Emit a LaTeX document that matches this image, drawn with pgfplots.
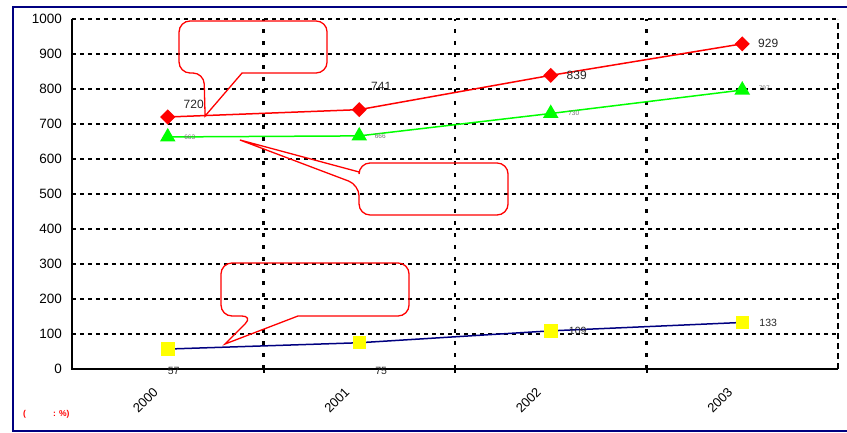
\documentclass[border=0pt]{standalone}
\usepackage{pgfplots}
\pgfplotsset{compat=1.18}
\usepackage{fontspec}
\setmainfont{Liberation Sans}
\definecolor{navyc}{RGB}{0,0,128}
\definecolor{greenc}{RGB}{0,255,0}
\definecolor{yellowc}{RGB}{255,255,0}
\definecolor{redc}{RGB}{255,0,0}
\begin{document}
\begin{tikzpicture}
\useasboundingbox (-72pt,-64pt) rectangle (775pt,369pt);
\begin{axis}[
  at={(0pt,0pt)}, anchor=south west,
  scale only axis, width=766pt, height=350pt,
  xmin=-0.5, xmax=3.5, ymin=0, ymax=1000,
  clip=false,
  axis line style={draw=none},
  xtick={0,1,2,3}, xticklabels={2000,2001,2002,2003},
  ytick={0,100,...,1000},
  major tick length=0pt,
  /pgf/number format/assume math mode=true,
  /pgf/number format/1000 sep={},
  yticklabel style={font=\fontsize{13.5}{14}\selectfont, inner sep=0pt, anchor=east, xshift=-10pt},
  xticklabel style={font=\fontsize{13}{14}\selectfont, xshift=-12pt, yshift=-21pt, rotate=45, anchor=east, inner sep=0pt},
  ymajorgrids,
  major grid style={black, line width=2pt, dash pattern=on 4pt off 4pt},
]
% vertical grid lines and axis frame
\draw[black, line width=2.2pt, dash pattern=on 4pt off 8pt] (axis cs:0.5,0) -- (axis cs:0.5,1000);
\draw[black, line width=2.2pt, dash pattern=on 4pt off 8pt] (axis cs:1.5,0) -- (axis cs:1.5,1000);
\draw[black, line width=2.2pt, dash pattern=on 4pt off 8pt] (axis cs:2.5,0) -- (axis cs:2.5,1000);
\draw[black, line width=2pt] (axis cs:-0.5,1000) -- (axis cs:-0.5,0) -- (axis cs:3.5,0);
\draw[black, line width=2pt, dash pattern=on 6pt off 4pt] (axis cs:3.5,0) -- (axis cs:3.5,1000);
\draw[black, line width=2pt] (axis cs:0.5,0) -- ++(0pt,-4pt);
\draw[black, line width=2pt] (axis cs:1.5,0) -- ++(0pt,-4pt);
\draw[black, line width=2pt] (axis cs:2.5,0) -- ++(0pt,-4pt);

% series
\addplot[color=redc, line width=1.5pt, mark=square*, mark size=4.6pt, mark options={rotate=45, fill=redc, draw=redc}]
  coordinates {(0,720) (1,741) (2,839) (3,929)};
\addplot[color=greenc, line width=1.5pt, mark=triangle*, mark size=7.5pt, mark options={fill=greenc, draw=greenc}]
  coordinates {(0,663) (1,666) (2,730) (3,797)};
\addplot[color=navyc, line width=1.5pt, mark=square*, mark size=6pt, mark options={fill=yellowc, draw=yellowc}]
  coordinates {(0,57) (1,75) (2,109) (3,133)};

% data labels
\begin{scope}[every node/.style={font=\fontsize{12}{12}\selectfont, text=black!85, inner sep=0pt}]
\node[xshift=26pt, yshift=13pt] at (axis cs:0,720) {720};
\node[xshift=22pt, yshift=23pt] at (axis cs:1,741) {741};
\node[xshift=26pt] at (axis cs:2,839) {839};
\node[xshift=26pt] at (axis cs:3,929) {929};
\end{scope}
\begin{scope}[every node/.style={font=\fontsize{6.5}{7}\selectfont, text=black!55, inner sep=0pt}]
\node[xshift=22pt] at (axis cs:0,663) {663};
\node[xshift=21pt] at (axis cs:1,666) {666};
\node[xshift=23pt] at (axis cs:2,730) {730};
\node[xshift=22pt, yshift=2pt] at (axis cs:3,797) {797};
\end{scope}
\begin{scope}[every node/.style={font=\fontsize{10.5}{11}\selectfont, text=black!85, inner sep=0pt}]
\node[xshift=6pt, yshift=-22pt] at (axis cs:0,57) {57};
\node[xshift=22pt, yshift=-28pt] at (axis cs:1,75) {75};
\node[xshift=27pt] at (axis cs:2,109) {109};
\node[xshift=26pt] at (axis cs:3,133) {133};
\end{scope}

% callouts
\draw[redc, line width=1.3pt] (axis cs:0.388,845.7) [rounded corners=11pt] -- (axis cs:0.832,845.7) -- (axis cs:0.832,994.3) -- (axis cs:0.059,994.3) -- (axis cs:0.059,845.7) -- (axis cs:0.189,845.7) [sharp corners] -- (axis cs:0.195,722.9) -- cycle;
\draw[redc, line width=1.3pt] (axis cs:0.999,562.9) [rounded corners=11pt] -- (axis cs:0.999,588.6) -- (axis cs:1.777,588.6) -- (axis cs:1.777,440) -- (axis cs:0.999,440) -- (axis cs:0.999,525.7) [sharp corners] -- (axis cs:0.377,654.3) -- cycle;
\draw[redc, line width=1.3pt] (axis cs:0.680,151.4) [rounded corners=11pt] -- (axis cs:1.260,151.4) -- (axis cs:1.260,302.9) -- (axis cs:0.278,302.9) -- (axis cs:0.278,151.4) -- (axis cs:0.445,151.4) [sharp corners] -- (axis cs:0.299,71.4) -- cycle;
\end{axis}
% outer frame
\draw[navyc, line width=2pt] (800pt,362pt) -- (-59pt,362pt) -- (-59pt,-62pt) -- (800pt,-62pt);
\node[anchor=west, inner sep=0pt, text=redc, font=\bfseries\fontsize{8.5}{9}\selectfont] at (-49pt,-45pt) {(\hspace{27pt}: \%)};
\end{tikzpicture}
\end{document}
